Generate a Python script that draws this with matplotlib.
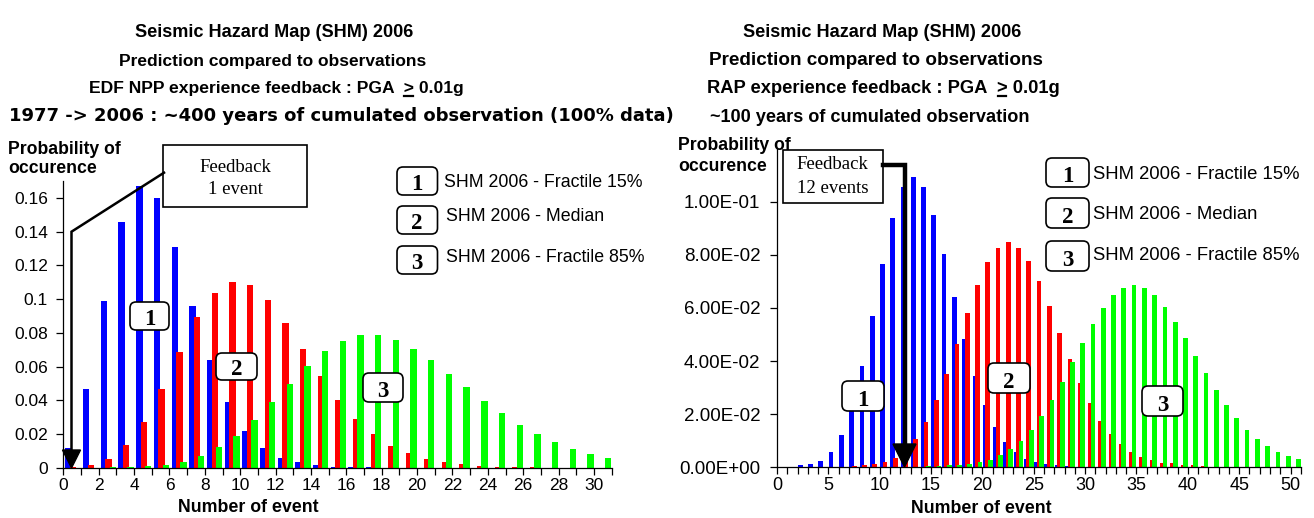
import numpy as np
import matplotlib
matplotlib.use("Agg")
import matplotlib.pyplot as plt
from matplotlib.patches import FancyBboxPatch, Rectangle, Polygon
from matplotlib.ticker import FuncFormatter

plt.rcParams['font.family'] = 'Liberation Sans'

# =========================
# DATA
# =========================
# left : EDF NPP feedback, number of events 0..30
events_edf = np.arange(31)
edf_frac15 = [0.012, 0.047, 0.099, 0.146, 0.167, 0.160, 0.131, 0.096, 0.064, 0.039,
              0.022, 0.012, 0.006, 0.0034, 0.002, 0.0008, 0.0005, 0.0003, 0.0001, 0,
              0, 0, 0, 0, 0, 0, 0, 0, 0, 0, 0]
edf_median = [0.0004, 0.0016, 0.0053, 0.0134, 0.0273, 0.0466, 0.0689, 0.0893, 0.1039, 0.1104,
              0.1086, 0.0996, 0.0861, 0.0703, 0.0547, 0.0405, 0.0289, 0.020, 0.0132, 0.0087,
              0.0053, 0.0034, 0.0022, 0.0012, 0.0008, 0.0005, 0.0003, 0.0002, 0, 0, 0]
edf_frac85 = [0, 0, 0.0003, 0.0005, 0.001, 0.002, 0.0038, 0.0071, 0.0122, 0.0192,
              0.0286, 0.0391, 0.050, 0.0604, 0.0691, 0.0754, 0.0786, 0.0786, 0.0758, 0.0707,
              0.064, 0.0559, 0.0478, 0.0399, 0.0324, 0.0257, 0.0201, 0.0152, 0.0113, 0.0085,
              0.0059]

# right : RAP feedback, number of events 0..50
events_rap = np.arange(51)
rap_frac15 = [0, 0, 0.0008, 0.0013, 0.0025, 0.0056, 0.0122, 0.0225, 0.0382, 0.057,
              0.0766, 0.0937, 0.1054, 0.1094, 0.1055, 0.095, 0.0803, 0.064, 0.0482, 0.0343,
              0.0233, 0.0152, 0.0095, 0.0058, 0.0033, 0.002, 0.0012, 0.0007, 0.0004, 0.0003,
              0.0002] + [0] * 20
rap_median = [0, 0, 0, 0, 0, 0, 0.0003, 0.0005, 0.0008, 0.0012,
              0.0019, 0.0035, 0.006, 0.0108, 0.0171, 0.0253, 0.0353, 0.0466, 0.0581, 0.0688,
              0.0773, 0.0827, 0.0847, 0.0827, 0.0777, 0.070, 0.0607, 0.0507, 0.0408, 0.0319,
              0.0241, 0.0174, 0.0126, 0.0088, 0.0059, 0.004, 0.0028, 0.0018, 0.0015, 0.001,
              0.0007, 0.0005, 0.0003, 0.0002, 0, 0, 0, 0, 0, 0, 0]
rap_frac85 = [0, 0, 0, 0, 0, 0, 0, 0, 0, 0,
              0, 0, 0, 0.0003, 0.0006, 0.0006, 0.0008, 0.001, 0.0013, 0.002,
              0.0029, 0.0046, 0.0069, 0.0099, 0.014, 0.0193, 0.0254, 0.0323, 0.0398, 0.0469,
              0.054, 0.0599, 0.0648, 0.0675, 0.0685, 0.0676, 0.0648, 0.0605, 0.0548, 0.0486,
              0.0419, 0.0354, 0.0291, 0.0235, 0.0184, 0.0141, 0.0107, 0.008, 0.0059, 0.0043,
              0.003]

series_names = ["SHM 2006 - Fractile 15%", "SHM 2006 - Median", "SHM 2006 - Fractile 85%"]
colors = ["#0000ff", "#ff0000", "#00ff00"]

# =========================
# FIGURE
# =========================
W, H = 1314, 518
fig = plt.figure(figsize=(W / 100, H / 100), dpi=100)


def px_axes(x0, y0, x1, y1):
    # pixel box measured from the top-left corner
    return fig.add_axes([x0 / W, 1 - y1 / H, (x1 - x0) / W, (y1 - y0) / H])


def style_axes(ax):
    for s in ["top", "right"]:
        ax.spines[s].set_visible(False)
    for s in ["left", "bottom"]:
        ax.spines[s].set_linewidth(0.9)
    ax.tick_params(axis="both", direction="out", length=5, width=0.9, labelsize=12.5)
    ax.tick_params(axis="x", pad=2)


# ---- left chart
axL = px_axes(63.3, 181, 611.7, 468)
for vals, off, c in zip([edf_frac15, edf_median, edf_frac85], [0.3, 0.56, 0.8], colors):
    axL.bar(events_edf + off, vals, 0.36, color=c, linewidth=0)
axL.set_xlim(0, 31)
axL.set_ylim(0, 0.17)
axL.set_xticks(range(0, 32))
axL.set_xticklabels([str(i) if i % 2 == 0 else "" for i in range(0, 32)])
axL.set_yticks(np.arange(0, 0.161, 0.02))
axL.yaxis.set_major_formatter(FuncFormatter(lambda v, p: f"{v:g}"))
style_axes(axL)
axL.tick_params(axis="y", pad=6)

# ---- right chart
axR = px_axes(777, 148.6, 1300.8, 467.3)
for vals, off, c in zip([rap_frac15, rap_median, rap_frac85], [0.27, 0.52, 0.77], colors):
    axR.bar(events_rap + off, vals, 0.46, color=c, linewidth=0)
axR.set_xlim(0, 51)
axR.set_ylim(0, 0.12)
axR.set_xticks(range(0, 52))
axR.set_xticklabels([str(i) if i % 5 == 0 else "" for i in range(0, 52)])
axR.set_yticks(np.arange(0, 0.101, 0.02))
axR.yaxis.set_major_formatter(FuncFormatter(lambda v, p: f"{v:.2E}"))
style_axes(axR)
axR.tick_params(axis="y", pad=7, labelsize=13.5)
axR.tick_params(axis="x", labelsize=13)

# =========================
# OVERLAY (pixel coordinates) for titles, boxes, arrows
# =========================
ov = fig.add_axes([0, 0, 1, 1], zorder=10)
ov.set_xlim(0, W)
ov.set_ylim(H, 0)
ov.axis("off")
ov.patch.set_alpha(0)
renderer = fig.canvas.get_renderer()


def title(cx, base, s, size=13.1, family="Liberation Sans"):
    return ov.text(cx, base, s, ha="center", va="baseline", fontsize=size,
                   fontweight="bold", family=family)


def title_ge(cx, base, prefix, suffix, size):
    # "prefix > suffix" with the ">" underlined, so it reads as >=
    full = title(cx, base, prefix + ">" + suffix, size)
    x0 = full.get_window_extent(renderer).x0
    tmp = ov.text(0, 0, prefix + ">", ha="left", va="baseline", fontsize=size, fontweight="bold")
    w_all = tmp.get_window_extent(renderer).width
    tmp.set_text(">")
    w_gt = tmp.get_window_extent(renderer).width
    tmp.remove()
    ov.plot([x0 + w_all - w_gt + 1, x0 + w_all - 1], [base + 3, base + 3], color="black", lw=1.6)


title(274, 37.3, "Seismic Hazard Map (SHM) 2006")
title(273, 65.7, "Prediction compared to observations", 12.5)
title_ge(276, 93.3, "EDF NPP experience feedback : PGA  ", " 0.01g", 12.6)
t4 = title(341, 120.7, "1977 -> 2006 : ~400 years of cumulated observation (100% data)",
           13.0, "DejaVu Sans")
w4 = t4.get_window_extent(renderer).width
t4.set_fontsize(13.0 * 662 / w4)

title(882, 36.7, "Seismic Hazard Map (SHM) 2006")
title(876, 65, "Prediction compared to observations", 13.6)
title_ge(883, 93.3, "RAP experience feedback : PGA  ", " 0.01g", 13.2)
title(870, 121.7, "~100 years of cumulated observation")

lab_kw = dict(ha="left", va="baseline", fontsize=12.7, fontweight="bold")
ov.text(8.3, 154, "Probability of", **lab_kw)
ov.text(8.3, 173.3, "occurence", **lab_kw)
ov.text(678.3, 150, "Probability of", **lab_kw)
ov.text(678.3, 170.7, "occurence", **lab_kw)

ov.text(248, 511.7, "Number of event", ha="center", va="baseline", fontsize=12.8, fontweight="bold")
ov.text(981, 513, "Number of event", ha="center", va="baseline", fontsize=12.8, fontweight="bold")


def num_box(x0, y0, x1, y1, label):
    ov.add_patch(FancyBboxPatch((x0, y0), x1 - x0, y1 - y0,
                                boxstyle="round,pad=0,rounding_size=6",
                                fc="white", ec="black", lw=1.2))
    ov.text((x0 + x1) / 2, y1 - 5, label, ha="center", va="baseline",
            family="Liberation Serif", fontweight="bold", fontsize=16.5)


# series labels on the bars
num_box(130, 302, 169, 330, "1")
num_box(216, 353, 257, 380, "2")
num_box(363, 373, 403, 402, "3")
num_box(842, 381, 884, 411, "1")
num_box(988, 363, 1030, 393, "2")
num_box(1142, 386, 1183, 416, "3")

# legends
for (y0, y1, tb, tx), name, num in zip([(167, 195, 187.3, 444), (206, 234, 221, 446), (246, 274, 261.7, 446)],
                                       series_names, ["1", "2", "3"]):
    num_box(397, y0, 437.5, y1, num)
    ov.text(tx, tb, name, ha="left", va="baseline", fontsize=12.8)

for (y0, y1, tb), name, num in zip([(158, 187, 179.3), (198, 228, 219), (241, 271, 260)],
                                   series_names, ["1", "2", "3"]):
    num_box(1046, y0, 1089, y1, num)
    ov.text(1093.3, tb, name, ha="left", va="baseline", fontsize=13.3)

# feedback boxes and arrows
ov.plot([164, 71.5, 71.5], [172.7, 231.7, 452], color="black", lw=1.8, solid_joinstyle="miter")
ov.add_patch(Polygon([(62.5, 450), (80.5, 450), (71.5, 468)], closed=True, fc="black", ec="black"))
ov.add_patch(Rectangle((163.3, 145), 143.4, 61.7, fc="white", ec="black", lw=1.2))
ov.text(235, 171.7, "Feedback", ha="center", va="baseline", family="Liberation Serif", fontsize=13.5)
ov.text(235, 194.3, "1 event", ha="center", va="baseline", family="Liberation Serif", fontsize=13.5)

ov.plot([882.7, 904.5, 904.5], [165, 165, 446], color="black", lw=3.2, solid_joinstyle="miter")
ov.add_patch(Polygon([(893, 444), (916, 444), (904.5, 467)], closed=True, fc="black", ec="black"))
ov.add_patch(Rectangle((782.7, 150), 100, 53.3, fc="white", ec="black", lw=1.2))
ov.text(832.7, 169.3, "Feedback", ha="center", va="baseline", family="Liberation Serif", fontsize=13.5)
ov.text(832.7, 193.3, "12 events", ha="center", va="baseline", family="Liberation Serif", fontsize=13.5)

fig.savefig("out.png", dpi=100)
